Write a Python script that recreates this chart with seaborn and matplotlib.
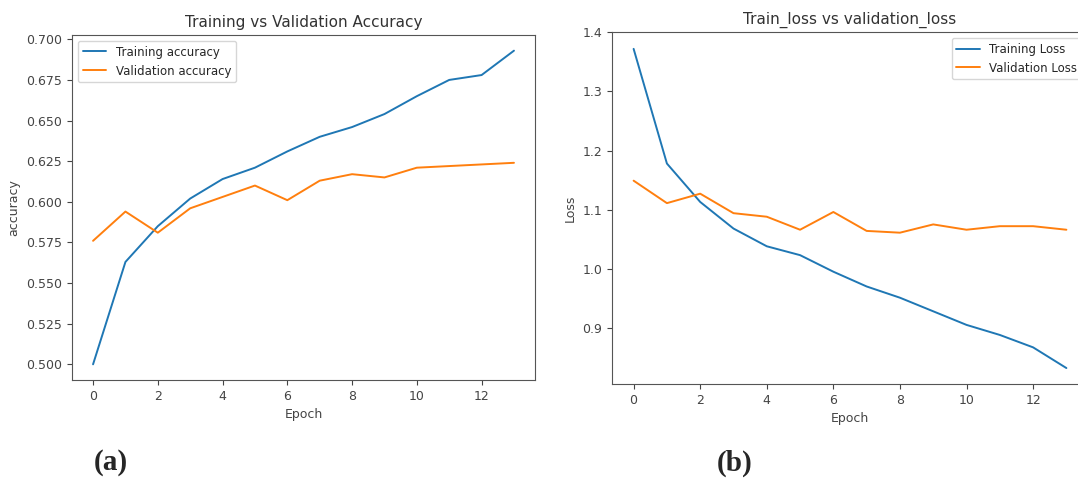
import numpy as np
import pandas as pd
import matplotlib
matplotlib.use("Agg")
import matplotlib.pyplot as plt
import seaborn as sns

# values
epochs = list(range(14))
train_acc = [0.500, 0.563, 0.585, 0.602, 0.614, 0.621, 0.631, 0.640, 0.646, 0.654,
             0.665, 0.675, 0.678, 0.693]
val_acc = [0.576, 0.594, 0.581, 0.596, 0.603, 0.610, 0.601, 0.613, 0.617, 0.615,
           0.621, 0.622, 0.623, 0.624]
train_loss = [1.372, 1.178, 1.113, 1.068, 1.038, 1.023, 0.995, 0.970, 0.951, 0.928,
              0.905, 0.888, 0.867, 0.832]
val_loss = [1.149, 1.111, 1.127, 1.094, 1.088, 1.066, 1.096, 1.064, 1.061, 1.075,
            1.066, 1.072, 1.072, 1.066]

acc_labels = ["Training accuracy", "Validation accuracy"]
loss_labels = ["Training Loss", "Validation Loss"]
panel_labels = ["(a)", "(b)"]

sns.set_style("ticks")
plt.rcParams['font.family'] = ['DejaVu Sans']
colors = ["#1f77b4", "#ff7f0e"]


def long_df(a, b, labels):
    return pd.DataFrame({
        "epoch": epochs + epochs,
        "value": a + b,
        "series": [labels[0]] * len(a) + [labels[1]] * len(b),
    })


fig = plt.figure(figsize=(10.78, 4.88), dpi=100)
ax1 = fig.add_axes([0.0668, 0.2213, 0.4295, 0.707])
ax2 = fig.add_axes([0.5677, 0.2131, 0.4416, 0.7213])

sns.lineplot(data=long_df(train_acc, val_acc, acc_labels), x="epoch", y="value",
             hue="series", palette=colors, ax=ax1, linewidth=1.4)
sns.lineplot(data=long_df(train_loss, val_loss, loss_labels), x="epoch", y="value",
             hue="series", palette=colors, ax=ax2, linewidth=1.4)

ax1.set_title("Training vs Validation Accuracy", fontsize=11, color="#333333")
ax1.set_xlabel("Epoch", fontsize=9, color="#444444")
ax1.set_ylabel("accuracy", fontsize=9, color="#444444")
ax1.set_xticks(range(0, 14, 2))
ax1.legend(loc="upper left", fontsize=8.5, frameon=True)

ax2.set_title("Train_loss vs validation_loss", fontsize=11, color="#333333")
ax2.set_xlabel("Epoch", fontsize=9, color="#444444")
ax2.set_ylabel("Loss", fontsize=9, color="#444444")
ax2.set_xticks(range(0, 14, 2))
ax2.legend(loc="upper right", fontsize=8.5, frameon=True)

for ax in (ax1, ax2):
    ax.tick_params(labelsize=9, colors="#444444")
    for s in ax.spines.values():
        s.set_visible(True)
        s.set_color("#555555")
    ax.margins(x=0.05)

ax2.set_ylim(0.805, 1.4005)
ax2.set_yticks([0.9, 1.0, 1.1, 1.2, 1.3, 1.4])

fig.text(111 / 1078, 1 - 463 / 488, panel_labels[0], ha="center", va="center",
         fontsize=21, fontweight="bold", family="Liberation Serif")
fig.text(735 / 1078, 1 - 463 / 488, panel_labels[1], ha="center", va="center",
         fontsize=21, fontweight="bold", family="Liberation Serif")

fig.savefig("out.png", dpi=100)
